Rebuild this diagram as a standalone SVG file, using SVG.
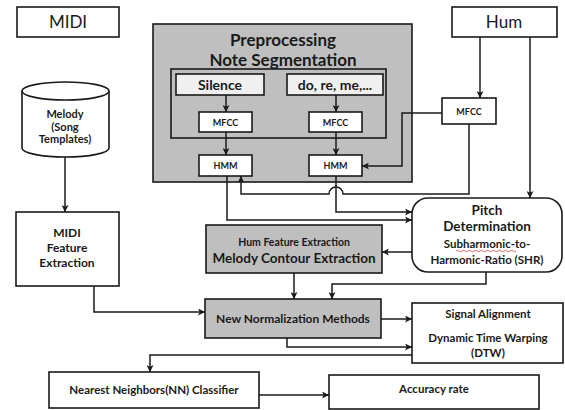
<svg xmlns="http://www.w3.org/2000/svg" width="565" height="410" viewBox="0 0 565 410">
  <defs>
    <style>
      text { font-family: Lato, "Liberation Sans", sans-serif; fill: #1a1a1a; text-anchor: middle; }
      .b { font-weight: bold; }
      .box { fill: #ffffff; stroke: #1a1a1a; stroke-width: 1.6; }
      .gray { fill: #bfbfbf; stroke: #1a1a1a; stroke-width: 1.6; }
      .light { fill: #f0f0f0; stroke: #1a1a1a; stroke-width: 1.6; }
      .frame { fill: none; stroke: #1a1a1a; stroke-width: 1.6; }
      .wire { fill: none; stroke: #1a1a1a; stroke-width: 1.5; }
      .arr { marker-end: url(#ah); }
    </style>
    <marker id="ah" viewBox="0 0 8 8" refX="8" refY="4" markerWidth="7" markerHeight="7" markerUnits="userSpaceOnUse" orient="auto">
      <path d="M0,0 L8,4 L0,8 L2,4 Z" fill="#1a1a1a"/>
    </marker>
  </defs>
  <rect width="565" height="410" fill="#ffffff"/>

  <!-- sources -->
  <g id="midi">
    <rect class="box" x="17" y="7" width="102" height="30"/>
    <text x="68" y="28" font-size="17">MIDI</text>
  </g>
  <g id="hum">
    <rect class="box" x="452" y="7" width="105" height="30"/>
    <text x="504" y="28" font-size="17">Hum</text>
  </g>

  <!-- song template database -->
  <g id="melody-db">
    <path class="box" d="M22,91 L22,148 A43.5,9 0 0 0 109,148 L109,91"/>
    <ellipse class="box" cx="65.5" cy="91" rx="43.5" ry="9"/>
    <text class="b" x="65" y="118" font-size="11">Melody</text>
    <text class="b" x="65" y="131" font-size="11">(Song</text>
    <text class="b" x="65" y="143" font-size="11">Templates)</text>
  </g>

  <!-- preprocessing block -->
  <g id="preprocessing">
    <rect class="gray" x="153" y="24" width="259" height="158"/>
    <text class="b" x="283" y="46" font-size="17">Preprocessing</text>
    <text class="b" x="283" y="66" font-size="17">Note Segmentation</text>
    <rect class="frame" x="171" y="69" width="215" height="69"/>
  </g>
  <g id="silence">
    <rect class="light" x="176" y="74" width="88" height="21"/>
    <text class="b" x="220" y="89.5" font-size="14">Silence</text>
  </g>
  <g id="notes">
    <rect class="light" x="287" y="74" width="96" height="21"/>
    <text class="b" x="335" y="89.5" font-size="14">do, re, me,...</text>
  </g>
  <g id="mfcc-silence">
    <rect class="box" x="199" y="112" width="53" height="20"/>
    <text class="b" x="225.5" y="125.5" font-size="9">MFCC</text>
  </g>
  <g id="mfcc-notes">
    <rect class="box" x="309" y="112" width="53" height="20"/>
    <text class="b" x="335.5" y="125.5" font-size="9">MFCC</text>
  </g>
  <g id="hmm-silence">
    <rect class="box" x="199" y="155" width="53" height="21"/>
    <text class="b" x="225.5" y="169" font-size="9">HMM</text>
  </g>
  <g id="hmm-notes">
    <rect class="box" x="309" y="155" width="53" height="21"/>
    <text class="b" x="335.5" y="169" font-size="9">HMM</text>
  </g>

  <g id="mfcc-hum">
    <rect class="box" x="442" y="98" width="54" height="26"/>
    <text class="b" x="469" y="114.5" font-size="9">MFCC</text>
  </g>

  <!-- pitch determination -->
  <g id="pitch">
    <rect class="box" x="412" y="198" width="150" height="74" rx="16" ry="16"/>
    <text class="b" x="487" y="215" font-size="13.5">Pitch</text>
    <text class="b" x="487" y="231" font-size="13.5">Determination</text>
    <text class="b" x="487" y="248" font-size="11.5">Subharmonic-to-</text>
    <path d="M456,251 q1.5,-1.5 3,0 t3,0 t3,0 t3,0 t3,0 t3,0 t3,0 t3,0 t3,0 t3,0 t3,0 t3,0 t3,0 t3,0 t3,0 t3,0 t3,0 t3,0 t3,0 t3,0" fill="none" stroke="#d04040" stroke-width="0.8"/>
    <text class="b" x="487" y="264" font-size="11.5">Harmonic-Ratio (SHR)</text>
  </g>

  <g id="hum-feature">
    <rect class="gray" x="206" y="225" width="176" height="48"/>
    <text class="b" x="294" y="246" font-size="10.5">Hum Feature Extraction</text>
    <text class="b" x="294" y="263" font-size="13.5">Melody Contour Extraction</text>
  </g>

  <g id="midi-feature">
    <rect class="box" x="16" y="212" width="103" height="74"/>
    <text class="b" x="67" y="237" font-size="12">MIDI</text>
    <text class="b" x="67" y="252" font-size="12">Feature</text>
    <text class="b" x="67" y="267" font-size="12">Extraction</text>
  </g>

  <g id="normalization">
    <rect class="gray" x="205" y="299" width="176" height="39"/>
    <text class="b" x="293" y="323" font-size="12">New Normalization Methods</text>
  </g>

  <g id="alignment">
    <rect class="box" x="412" y="303" width="151" height="60"/>
    <text class="b" x="488" y="318" font-size="11.5">Signal Alignment</text>
    <text class="b" x="488" y="342" font-size="11.5">Dynamic Time Warping</text>
    <text class="b" x="488" y="357" font-size="11.5">(DTW)</text>
  </g>

  <g id="classifier">
    <rect class="box" x="49" y="372" width="210" height="36"/>
    <text class="b" x="154" y="394" font-size="11.5">Nearest Neighbors(NN) Classifier</text>
  </g>

  <g id="accuracy">
    <rect class="box" x="329" y="375" width="210" height="34"/>
    <text class="b" x="434" y="393" font-size="11.5">Accuracy rate</text>
  </g>

  <!-- connectors -->
  <g id="connectors">
    <path class="wire arr" d="M226,95 V112"/>
    <path class="wire arr" d="M336,95 V112"/>
    <path class="wire arr" d="M226,132 V155"/>
    <path class="wire arr" d="M336,132 V155"/>
    <path class="wire arr" d="M480,37 V98"/>
    <path class="wire arr" d="M530,37 V198"/>
    <path class="wire arr" d="M442,113 H402 V166 H362"/>
    <path class="wire arr" d="M469,124 V194 H343 A7,7 0 0 0 329,194 H241 V176"/>
    <path class="wire arr" d="M336,176 V212 H412"/>
    <path class="wire arr" d="M227,176 V220 H412"/>
    <path class="wire arr" d="M412,252 H382"/>
    <path class="wire arr" d="M294,273 V299"/>
    <path class="wire arr" d="M486,272 V284 H332 V299"/>
    <path class="wire arr" d="M65,157 V212"/>
    <path class="wire arr" d="M94,286 V312 H205"/>
    <path class="wire arr" d="M381,319 H412"/>
    <path class="wire arr" d="M287,338 V347 H412"/>
    <path class="wire arr" d="M412,355 H150 V372"/>
    <path class="wire arr" d="M259,395 H329"/>
  </g>
</svg>
